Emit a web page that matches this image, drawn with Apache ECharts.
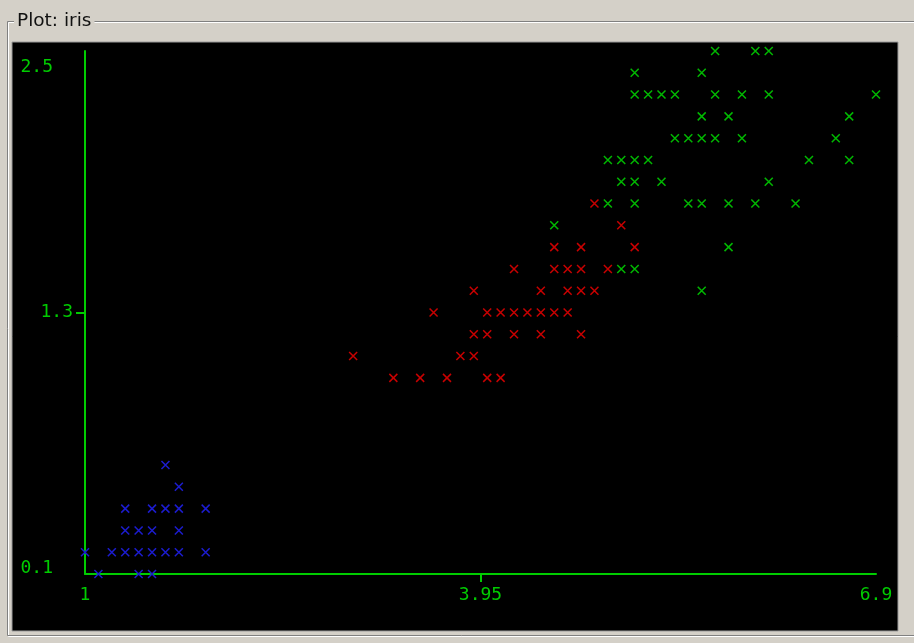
<!DOCTYPE html>
<html>
<head>
<meta charset="utf-8">
<script src="https://cdn.jsdelivr.net/npm/echarts@6/dist/echarts.min.js"></script>
<style>
html,body{margin:0;padding:0;background:#d4d0c8;}
#chart{width:914px;height:643px;}
</style>
</head>
<body>
<div id="chart"></div>
<script>
// Iris: petal length (x) vs petal width (y)
const setosaLength = [1.4,1.4,1.3,1.5,1.4,1.7,1.4,1.5,1.4,1.5,1.5,1.6,1.4,1.1,1.2,1.5,1.3,1.4,1.7,1.5,1.7,1.5,1.0,1.7,1.9,1.6,1.6,1.5,1.4,1.6,1.6,1.5,1.5,1.4,1.5,1.2,1.3,1.5,1.3,1.5,1.3,1.3,1.3,1.6,1.9,1.4,1.6,1.4,1.5,1.4];
const setosaWidth  = [0.2,0.2,0.2,0.2,0.2,0.4,0.3,0.2,0.2,0.1,0.2,0.2,0.1,0.1,0.2,0.4,0.4,0.3,0.3,0.3,0.2,0.4,0.2,0.5,0.2,0.2,0.4,0.2,0.2,0.2,0.2,0.4,0.1,0.2,0.2,0.2,0.2,0.1,0.2,0.2,0.3,0.3,0.2,0.6,0.4,0.3,0.2,0.2,0.2,0.2];
const versicolorLength = [4.7,4.5,4.9,4.0,4.6,4.5,4.7,3.3,4.6,3.9,3.5,4.2,4.0,4.7,3.6,4.4,4.5,4.1,4.5,3.9,4.8,4.0,4.9,4.7,4.3,4.4,4.8,5.0,4.5,3.5,3.8,3.7,3.9,5.1,4.5,4.5,4.7,4.4,4.1,4.0,4.4,4.6,4.0,3.3,4.2,4.2,4.2,4.3,3.0,4.1];
const versicolorWidth  = [1.4,1.5,1.5,1.3,1.5,1.3,1.6,1.0,1.3,1.4,1.0,1.5,1.0,1.4,1.3,1.4,1.5,1.0,1.5,1.1,1.8,1.3,1.5,1.2,1.3,1.4,1.4,1.7,1.5,1.0,1.1,1.0,1.2,1.6,1.5,1.6,1.5,1.3,1.3,1.3,1.2,1.4,1.2,1.0,1.3,1.2,1.3,1.3,1.1,1.3];
const virginicaLength = [6.0,5.1,5.9,5.6,5.8,6.6,4.5,6.3,5.8,6.1,5.1,5.3,5.5,5.0,5.1,5.3,5.5,6.7,6.9,5.0,5.7,4.9,6.7,4.9,5.7,6.0,4.8,4.9,5.6,5.8,6.1,6.4,5.6,5.1,5.6,6.1,5.6,5.5,4.8,5.4,5.6,5.1,5.1,5.9,5.7,5.2,5.0,5.2,5.4,5.1];
const virginicaWidth  = [2.5,1.9,2.1,1.8,2.2,2.1,1.7,1.8,1.8,2.5,2.0,1.9,2.1,2.0,2.4,2.3,1.8,2.2,2.3,1.5,2.3,2.0,2.0,1.8,2.1,1.8,1.8,1.8,2.1,1.6,1.9,2.0,2.2,1.5,1.4,2.3,2.4,1.8,1.8,2.1,2.4,2.3,1.9,2.3,2.5,2.3,1.9,2.0,2.3,1.8];

const xTickLabels = ['1','3.95','6.9'];
const yTickLabels = ['0.1','1.3','2.5'];
const xMin = 1, xMax = 6.9, xInterval = 2.95;
const yMin = 0.1, yMax = 2.5, yInterval = 1.2;

// coincident instances are drawn once (a single cross, as in the reference)
const drawn = new Set();
function pairs(a, b){
  const out = [];
  a.forEach((v,i)=>{
    const k = v.toFixed(1) + ',' + b[i].toFixed(1);
    if (!drawn.has(k)) { drawn.add(k); out.push([v, b[i]]); }
  });
  return out;
}

const AXIS = '#00cc00';
const FONT = 'DejaVu Sans Mono';
const xMark = 'path://M0,0L10,10M10,0L0,10';

function markSeries(name, data, col, z){
  return {
    name: name, type: 'scatter', data: data, z: z,
    symbol: xMark, symbolSize: 8,
    itemStyle: { color: 'transparent', borderColor: col, borderWidth: 1.5, opacity: 1 },
    emphasis: { disabled: true },
    silent: true
  };
}

// versicolor drawn on top where it coincides with virginica
const versicolorData = pairs(versicolorLength, versicolorWidth);
const setosaData = pairs(setosaLength, setosaWidth);
const virginicaData = pairs(virginicaLength, virginicaWidth);

const chart = echarts.init(document.getElementById('chart'), null, {renderer:'canvas'});
chart.setOption({
  animation: false,
  backgroundColor: '#d4d0c8',
  title: {
    text: 'Plot: iris', left: 14, top: 12,
    backgroundColor: '#d4d0c8', padding: [0, 3, 0, 3],
    textStyle: { fontFamily: 'DejaVu Sans', fontSize: 18.5, fontWeight: 'normal', color: '#111' }
  },
  graphic: [
    { type: 'rect', z: -30, shape: { x: 8.5, y: 22.5, width: 1000, height: 614 }, style: { fill: null, stroke: '#ffffff', lineWidth: 1 } },
    { type: 'rect', z: -29, shape: { x: 7.5, y: 21.5, width: 1000, height: 614 }, style: { fill: null, stroke: '#808080', lineWidth: 1 } },
    { type: 'rect', z: -20, shape: { x: 12, y: 42, width: 886, height: 589 }, style: { fill: '#000000', stroke: '#9a9a9a', lineWidth: 1 } }
  ],
  grid: { left: 85, right: 38, top: 51, bottom: 69 },
  xAxis: {
    type: 'value', min: xMin, max: xMax, interval: xInterval,
    splitLine: { show: false },
    axisLine: { show: true, onZero: false, lineStyle: { color: AXIS, width: 2 } },
    axisTick: { show: true, customValues: [xMin + xInterval], length: 8, lineStyle: { color: AXIS, width: 2 } },
    axisLabel: {
      margin: 12, color: AXIS, fontFamily: FONT, fontSize: 18,
      formatter: function(v){
        const i = Math.round((v - xMin) / xInterval);
        return xTickLabels[i];
      }
    }
  },
  yAxis: {
    type: 'value', min: yMin, max: yMax, interval: yInterval,
    splitLine: { show: false },
    axisLine: { show: true, onZero: false, lineStyle: { color: AXIS, width: 2 } },
    axisTick: { show: true, customValues: [yMin + yInterval], length: 9, lineStyle: { color: AXIS, width: 2 } },
    axisLabel: {
      margin: 12, color: AXIS, fontFamily: FONT, fontSize: 18,
      formatter: function(v){
        const i = Math.round((v - yMin) / yInterval);
        const t = yTickLabels[i];
        if (i === 2) return '{top|' + t + '}';
        if (i === 0) return '{bot|' + t + '}';
        return '{mid|' + t + '}';
      },
      rich: {
        top: { color: AXIS, fontFamily: FONT, fontSize: 18, padding: [32, 20, 0, 0] },
        bot: { color: AXIS, fontFamily: FONT, fontSize: 18, padding: [0, 20, 12, 0] },
        mid: { color: AXIS, fontFamily: FONT, fontSize: 18 }
      }
    }
  },
  series: [
    markSeries('Iris-setosa', setosaData, '#1c1cd0', 2),
    markSeries('Iris-virginica', virginicaData, '#00b800', 2),
    markSeries('Iris-versicolor', versicolorData, '#c80000', 3)
  ]
});
</script>
</body>
</html>
